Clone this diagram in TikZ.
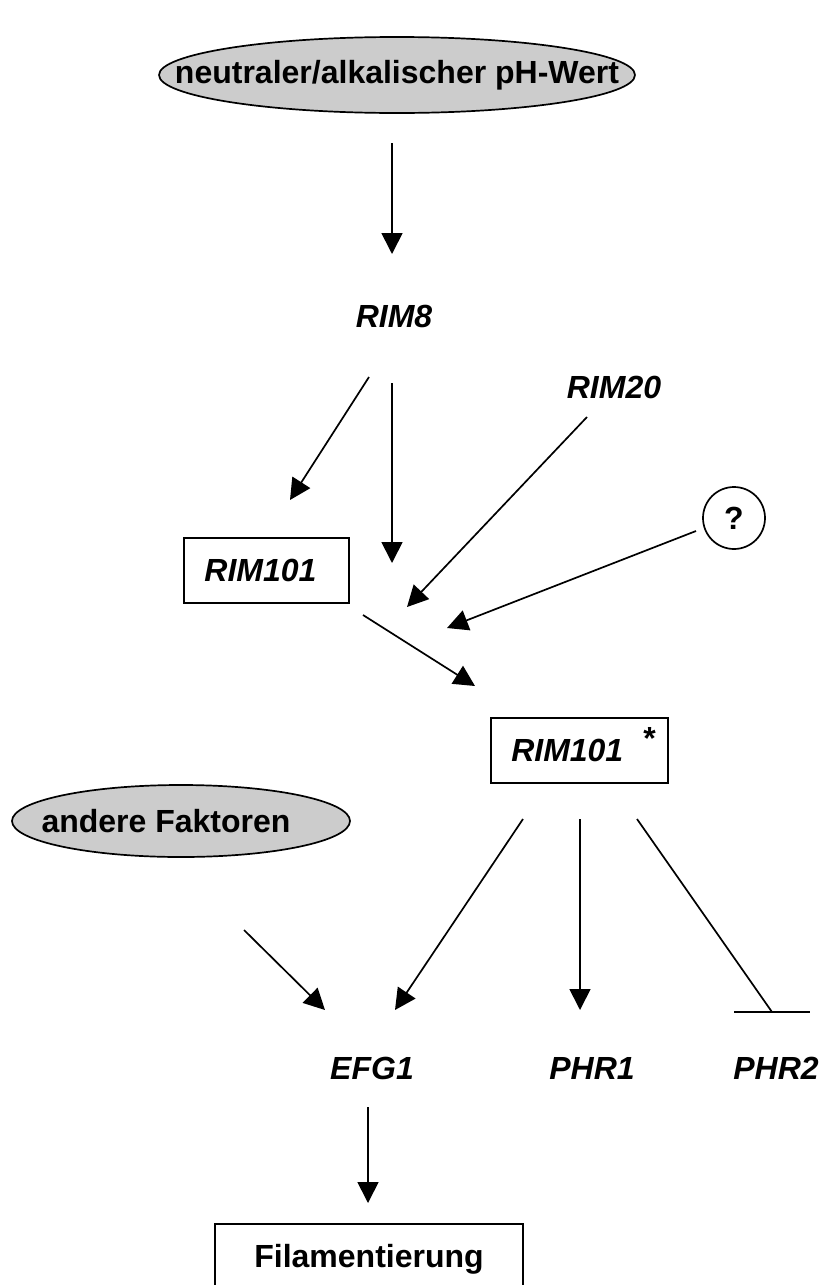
\documentclass[tikz,border=0pt]{standalone}
\usepackage{fontspec}
\setmainfont{Liberation Sans}
\usetikzlibrary{arrows.meta,shapes.geometric}
\definecolor{ovalgray}{RGB}{204,204,204}
\begin{document}
\begin{tikzpicture}[x=1pt,y=-1pt,
  every node/.style={inner sep=0pt},
  lbl/.style={font=\fontsize{32}{38}\selectfont\bfseries},
  gene/.style={font=\fontsize{32}{38}\selectfont\bfseries\itshape},
  oval/.style={ellipse,draw,line width=1.7pt,fill=ovalgray},
  genebox/.style={rectangle,draw,line width=1.7pt,gene},
  conn/.style={line width=1.7pt,-{Triangle[length=21pt,width=21pt]}},
  inhib/.style={line width=1.7pt}]
\useasboundingbox (0,0) rectangle (820,1285);
% nodes
\node[oval,minimum width=476pt,minimum height=76pt,
  label={[lbl]center:neutraler/alkalischer pH-Wert}] (ph) at (397,75) {};
\node[gene] (rim8) at (394,316) {RIM8};
\node[gene] (rim20) at (614,387) {RIM20};
\node[circle,draw,line width=1.7pt,minimum size=62pt,lbl] (q) at (734,518) {?};
\node[genebox,minimum width=165pt,minimum height=65pt] (rim101) at (266.5,570.5) {RIM101\hspace*{12pt}};
\node[genebox,minimum width=177pt,minimum height=65pt] (rim101a) at (579.5,750.5)
  {\hspace*{8pt}RIM101\hspace*{20pt}\smash{\raisebox{12pt}{\upshape *}}};
\node[oval,minimum width=338pt,minimum height=72pt,
  label={[lbl,xshift=-15pt]center:andere Faktoren}] (andere) at (181,821) {};
\node[gene] (efg1) at (372,1068) {EFG1};
\node[gene] (phr1) at (592,1068) {PHR1};
\node[gene] (phr2) at (776,1068) {PHR2};
\node[rectangle,draw,line width=1.7pt,lbl,minimum width=308pt,inner ysep=20pt,
  anchor=north] (fil) at (369,1223) {Filamentierung};
% connector end points
\coordinate (phOut) at (392,143);
\coordinate (rim8In) at (392,254);
\coordinate (rim8OutA) at (369,377);
\coordinate (rim101In) at (290,500);
\coordinate (rim8OutB) at (392,383);
\coordinate (cutA) at (392,563);
\coordinate (rim20Out) at (587,417);
\coordinate (cutB) at (407,607);
\coordinate (qOut) at (696,531);
\coordinate (cutC) at (447,628);
\coordinate (rim101Out) at (363,615);
\coordinate (rim101aIn) at (475,686);
\coordinate (andereOut) at (244,930);
\coordinate (efgInA) at (325,1010);
\coordinate (rim101aOutA) at (523,819);
\coordinate (efgInB) at (395,1010);
\coordinate (rim101aOutB) at (580,819);
\coordinate (phr1In) at (580,1010);
\coordinate (rim101aOutC) at (637,819);
\coordinate (phr2Bar) at (772,1012);
\coordinate (barL) at (734,1012);
\coordinate (barR) at (810,1012);
\coordinate (efgOut) at (368,1107);
\coordinate (filIn) at (368,1203);
% connectors
\draw[conn] (phOut) -- (rim8In);
\draw[conn] (rim8OutA) -- (rim101In);
\draw[conn] (rim8OutB) -- (cutA);
\draw[conn] (rim20Out) -- (cutB);
\draw[conn] (qOut) -- (cutC);
\draw[conn] (rim101Out) -- (rim101aIn);
\draw[conn] (andereOut) -- (efgInA);
\draw[conn] (rim101aOutA) -- (efgInB);
\draw[conn] (rim101aOutB) -- (phr1In);
\draw[inhib] (rim101aOutC) -- (phr2Bar);
\draw[inhib] (barL) -- (barR);
\draw[conn] (efgOut) -- (filIn);
\end{tikzpicture}
\end{document}
